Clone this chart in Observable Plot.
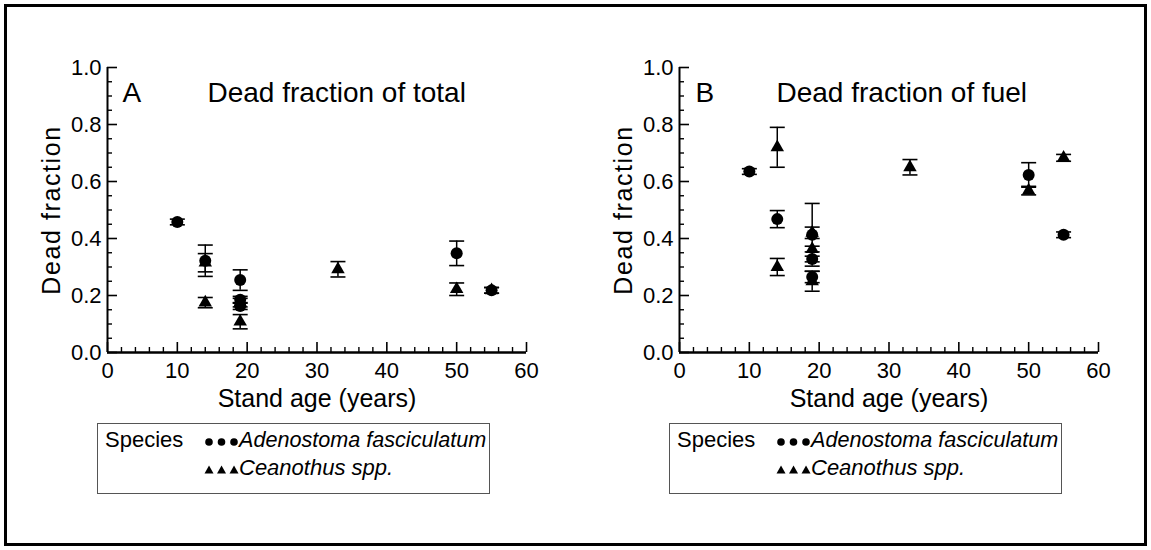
<!DOCTYPE html>
<html><head><meta charset="utf-8">
<script src="https://cdn.jsdelivr.net/npm/d3@7"></script>
<script src="https://cdn.jsdelivr.net/npm/@observablehq/plot@0.6"></script>
<style>
body{margin:0;background:#fff;font-family:"Liberation Sans",Arial,sans-serif;}
#wrap{position:relative;width:1151px;height:550px;overflow:hidden;background:#fff;}
.panel{position:absolute;top:0;}
.frame{position:absolute;left:4px;top:4px;width:1137px;height:536px;border:3px solid #000;pointer-events:none;}
.legend{position:absolute;top:423px;width:391px;height:69px;border:1px solid #555;background:#fff;}
.legend .t{position:absolute;font-size:22px;line-height:22px;white-space:nowrap;color:#000;}
.legend .sym{position:absolute;}
</style></head>
<body><div id="wrap"></div>
<script>
// ---- data ----
const ticksX = [0, 10, 20, 30, 40, 50, 60];
const ticksY = [0, 0.2, 0.4, 0.6, 0.8, 1.0];
const speciesNames = ["Adenostoma fasciculatum", "Ceanothus spp."];

// Panel A: Dead fraction of total
const aCircleAge = [10, 14, 19, 19, 19, 50, 55];
const aCircleVal = [0.458, 0.322, 0.254, 0.185, 0.163, 0.348, 0.218];
const aCircleErr = [0.010, 0.055, 0.036, 0.012, 0.012, 0.043, 0.010];
const aTriAge = [14, 14, 19, 19, 33, 50, 55];
const aTriVal = [0.315, 0.175, 0.175, 0.108, 0.292, 0.222, 0.218];
const aTriErr = [0.032, 0.018, 0.015, 0.025, 0.027, 0.022, 0.010];

// Panel B: Dead fraction of fuel
const bCircleAge = [10, 14, 19, 19, 19, 50, 55];
const bCircleVal = [0.635, 0.468, 0.413, 0.328, 0.265, 0.623, 0.413];
const bCircleErr = [0.010, 0.030, 0.110, 0.010, 0.020, 0.043, 0.010];
const bTriAge = [14, 14, 19, 19, 19, 33, 50, 55];
const bTriVal = [0.720, 0.300, 0.420, 0.363, 0.250, 0.650, 0.568, 0.683];
const bTriErr = [0.070, 0.030, 0.020, 0.010, 0.035, 0.027, 0.015, 0.012];

const minorX = d3.range(0, 61, 2).filter(v => v % 10 !== 0);
const minorY = d3.range(1, 20).map(i => i * 0.05).filter(v => Math.abs(v * 5 - Math.round(v * 5)) > 1e-6);

const capSymbol = {draw(ctx, size) { const r = Math.sqrt(size / Math.PI); ctx.moveTo(-r, 0); ctx.lineTo(r, 0); }};

function rows(ages, vals, errs) { return ages.map((a, i) => ({age: a, v: vals[i], e: errs[i]})); }

function panel(letter, title, circ, tri, left, letterDx, titleDx) {
  const all = circ.concat(tri);
  const fig = Plot.plot({
    width: 575, height: 420,
    marginLeft: 107, marginRight: 49, marginTop: 67, marginBottom: 68,
    x: {domain: [0, 60]},
    y: {domain: [0, 1]},
    style: {fontFamily: "'Liberation Sans', Arial, sans-serif", background: "transparent", color: "black", overflow: "visible"},
    marks: [
      Plot.axisX({ticks: ticksX, tickSize: -10, tickPadding: 20, tickFormat: d3.format("d"), label: null, fontSize: 22, strokeWidth: 1.6}),
      Plot.axisX({ticks: minorX, tickSize: -5, tickFormat: () => "", label: null, strokeWidth: 1.4}),
      Plot.axisY({ticks: ticksY, tickSize: -10, tickPadding: 16, tickFormat: d3.format(".1f"), label: null, fontSize: 22, strokeWidth: 1.6}),
      Plot.axisY({ticks: minorY, tickSize: -5, tickFormat: () => "", label: null, strokeWidth: 1.4}),
      Plot.ruleX([0], {y1: 0, y2: 1, strokeWidth: 2}),
      Plot.ruleY([0], {x1: 0, x2: 60, strokeWidth: 2.4}),
      Plot.ruleX(all, {x: "age", y1: d => d.v - d.e, y2: d => d.v + d.e, strokeWidth: 1.5}),
      Plot.dot(all, {x: "age", y: d => d.v + d.e, symbol: capSymbol, r: 7.5, stroke: "black", strokeWidth: 1.6}),
      Plot.dot(all, {x: "age", y: d => d.v - d.e, symbol: capSymbol, r: 7.5, stroke: "black", strokeWidth: 1.6}),
      Plot.dot(circ, {x: "age", y: "v", r: 6, symbol: "circle", fill: "black"}),
      Plot.dot(tri, {x: "age", y: "v", r: 5, symbol: "triangle", fill: "black"}),
      Plot.text([letter], {text: d => d, frameAnchor: "top-left", dx: letterDx, dy: 25.5, textAnchor: "start", lineAnchor: "middle", fontSize: 28}),
      Plot.text([title], {text: d => d, frameAnchor: "top-left", dx: titleDx, dy: 25.5, textAnchor: "start", lineAnchor: "middle", fontSize: 28}),
      Plot.text(["Dead fraction"], {text: d => d, frameAnchor: "left", dx: -56, rotate: -90, textAnchor: "middle", lineAnchor: "middle", fontSize: 25}),
      Plot.text(["Stand age (years)"], {text: d => d, frameAnchor: "bottom", dy: 46, textAnchor: "middle", lineAnchor: "middle", fontSize: 25})
    ]
  });
  fig.querySelectorAll("text").forEach(t => { if (t.textContent === "Dead fraction") t.style.letterSpacing = "1.6px"; });
  fig.classList.add("panel");
  fig.style.left = left + "px";
  return fig;
}

function legend(left) {
  const box = document.createElement("div");
  box.className = "legend";
  box.style.left = left + "px";
  const dots = '<svg class="sym" style="left:104px;top:12px" width="40" height="12">' +
    [7, 19.5, 32].map(c => `<circle cx="${c}" cy="6" r="3.8" fill="black"/>`).join("") + '</svg>';
  const tris = '<svg class="sym" style="left:104px;top:40px" width="40" height="12">' +
    [7, 19.5, 32].map(c => `<path d="M${c},1.5 L${c + 4.5},9.5 L${c - 4.5},9.5 Z" fill="black"/>`).join("") + '</svg>';
  box.innerHTML =
    '<div class="t" style="left:7px;top:5.4px">Species</div>' + dots +
    `<div class="t" style="left:141px;top:5.4px;font-style:italic">${speciesNames[0]}</div>` + tris +
    `<div class="t" style="left:141px;top:33.4px;font-style:italic">${speciesNames[1]}</div>`;
  box.querySelectorAll(".t")[1].style.fontSize = "21.6px";
  return box;
}

const wrap = document.getElementById("wrap");
wrap.appendChild(panel("A", "Dead fraction of total", rows(aCircleAge, aCircleVal, aCircleErr), rows(aTriAge, aTriVal, aTriErr), 0, 15, 100));
wrap.appendChild(panel("B", "Dead fraction of fuel", rows(bCircleAge, bCircleVal, bCircleErr), rows(bTriAge, bTriVal, bTriErr), 572, 16, 97));
wrap.appendChild(legend(97));
wrap.appendChild(legend(669));
const frame = document.createElement("div");
frame.className = "frame";
wrap.appendChild(frame);
</script>
</body></html>
